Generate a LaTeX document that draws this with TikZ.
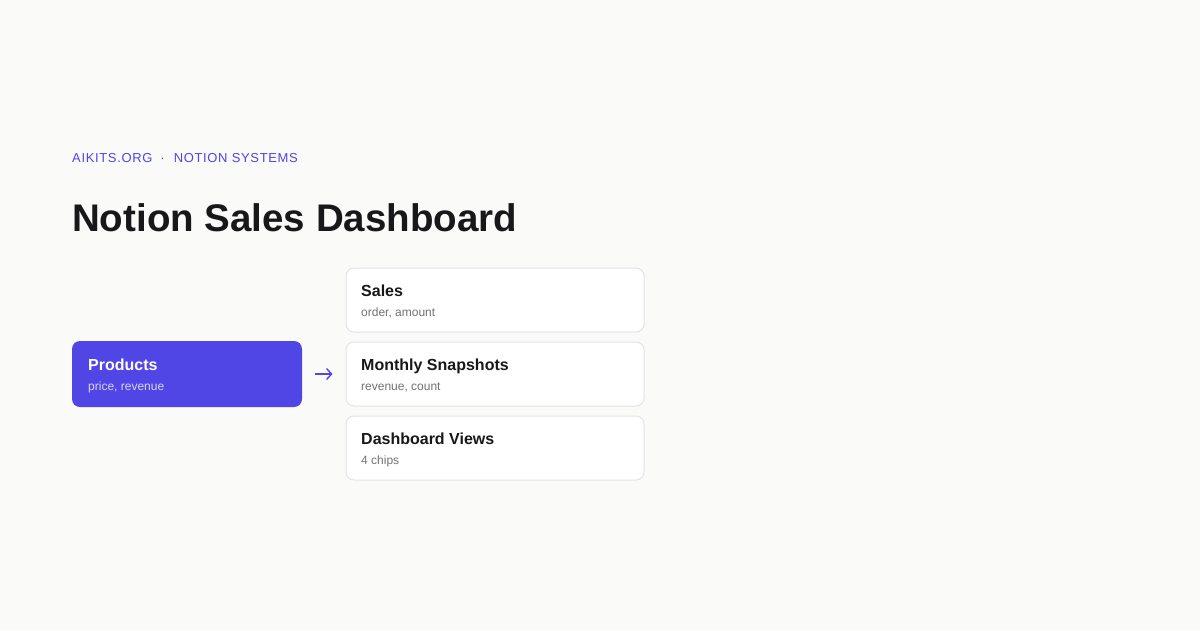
\documentclass[tikz,border=0pt]{standalone}
\usepackage{fontspec}
\setmainfont{Liberation Sans}
\newfontfamily\kickerfont[LetterSpace=5]{Liberation Sans}
\usetikzlibrary{arrows.meta}
\usetikzlibrary{calc}

\definecolor{bgpage}{HTML}{FAFAF9}
\definecolor{indigo}{HTML}{4F46E5}
\definecolor{inkdark}{HTML}{18181B}
\definecolor{inkgray}{HTML}{737373}
\definecolor{cardline}{HTML}{E4E4E7}

\tikzset{
  card/.style={draw=cardline, line width=1pt, fill=white, rounded corners=8pt, minimum width=298pt, minimum height=64pt, inner sep=0pt},
  cardtitle/.style={anchor=base west, inner sep=0pt, text=inkdark, font=\fontsize{16}{19}\selectfont\bfseries},
  cardsub/.style={anchor=base west, inner sep=0pt, text=inkgray, font=\fontsize{12}{14}\selectfont},
}

\begin{document}
\begin{tikzpicture}[x=1pt, y=-1pt]
    \fill[bgpage] (0,0) rectangle (1200,630);
    \useasboundingbox (0,0) rectangle (1200,630);

    \node[anchor=base west, inner sep=0pt, text=indigo, font=\fontsize{13}{15}\selectfont\kickerfont] (kicker) at (72,162) {AIKITS.ORG\hspace{8pt}·\hspace{9pt}NOTION SYSTEMS};
    \node[anchor=base west, inner sep=0pt, text=inkdark, font=\fontsize{38.5}{44}\selectfont\bfseries] (title) at (72,231) {Notion Sales Dashboard};

    \node[fill=indigo, rounded corners=8pt, minimum width=230pt, minimum height=66pt, inner sep=0pt] (products) at (187,374) {};
    \node[cardtitle, text=white] (productsname) at (88,370) {Products};
    \node[cardsub, text=white!78!indigo] (productsfields) at (88,390) {price, revenue};

    \node[card] (sales) at (495,300) {};
    \node[cardtitle] (salesname) at (361,296) {Sales};
    \node[cardsub] (salesfields) at (361,316) {order, amount};

    \node[card] (snapshots) at (495,374) {};
    \node[cardtitle] (snapshotsname) at (361,370) {Monthly Snapshots};
    \node[cardsub] (snapshotsfields) at (361,390) {revenue, count};

    \node[card] (views) at (495,448) {};
    \node[cardtitle] (viewsname) at (361,444) {Dashboard Views};
    \node[cardsub] (viewsfields) at (361,464) {4 chips};

    \draw[indigo, line width=1.4pt, -{Straight Barb[length=5pt, width=11pt]}, shorten <=13pt, shorten >=13pt] (products.east) -- (snapshots.west);
  \end{tikzpicture}
\end{document}
